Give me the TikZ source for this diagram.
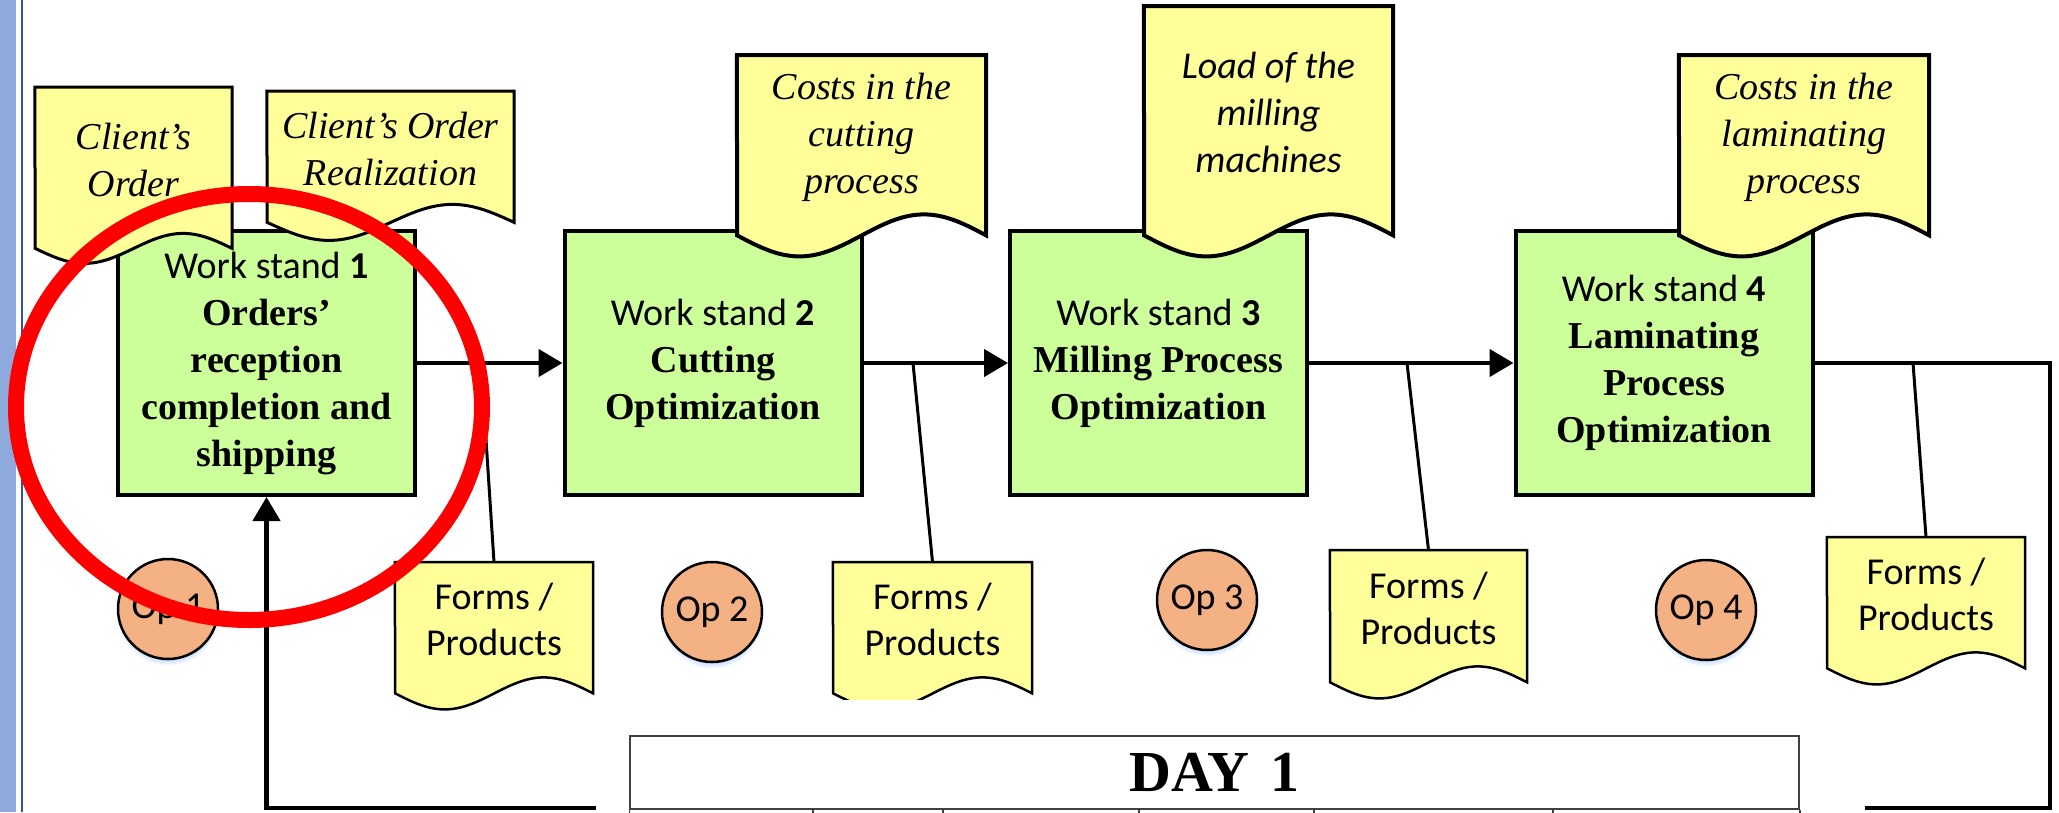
\documentclass[tikz,border=0pt]{standalone}
\usepackage{fontspec}
\setmainfont{Liberation Serif}
\newfontfamily\calibri{Carlito}
\usetikzlibrary{arrows.meta,shadows}

\definecolor{boxgreen}{HTML}{CCFF99}
\definecolor{docyellow}{HTML}{FFFF99}
\definecolor{opfill}{HTML}{F4B183}
\definecolor{stripblue}{HTML}{8EA9DB}
\definecolor{stripdark}{HTML}{2F5597}
\definecolor{tablegray}{HTML}{404040}
\definecolor{ringred}{HTML}{FF0000}

\pgfdeclarelayer{paper}
\pgfdeclarelayer{boxes}
\pgfdeclarelayer{docs}
\pgfsetlayers{paper,boxes,docs,main}

% outline of a "document" symbol hanging from the top of a text node:
% [#1] optional clip, #2 node, #3 width, #4 wave amplitude, #5 line width
\newcommand\docoutline[5][]{%
  \begin{pgfonlayer}{docs}
  \begin{scope}
    #1
    \filldraw[docpaint, line width=#5] (#2.north west) -- (#2.north east)
      -- ([yshift=-16pt]#2.south east)
      sin ++(-#3/4, #4) cos ++(-#3/4, -#4)
      sin ++(-#3/4, -#4) cos ++(-#3/4, #4) -- cycle;
  \end{scope}
  \end{pgfonlayer}}

\tikzset{
  wsbox/.style={draw, line width=4pt, fill=boxgreen, minimum width=297pt,
    minimum height=264pt, inner sep=0pt, align=center,
    font=\fontsize{38}{47}\selectfont},
  doctext/.style={anchor=north, inner sep=0pt, align=center},
  serifdoc/.style={font=\fontsize{38}{47}\selectfont\itshape},
  sansdoc/.style={font=\calibri\fontsize{38}{46}\selectfont},
  docpaint/.style={draw=black, fill=docyellow, line join=miter},
  opnode/.style={circle, draw, line width=2.5pt, fill=opfill,
    minimum size=100pt, inner sep=0pt, font=\calibri\fontsize{38}{46}\selectfont,
    circular drop shadow={fill=blue!60!cyan, opacity=0.25, shadow xshift=0pt,
      shadow yshift=-5pt, shadow scale=1.03}},
  flow/.style={line width=4.5pt, -{Triangle[length=24pt,width=27pt]}},
  tap/.style={line width=3pt},
  tablerule/.style={draw=tablegray, line width=1.5pt},
  ringpen/.style={draw=ringred, line width=16pt},
}

\begin{document}
\begin{tikzpicture}[x=1pt, y=-1pt]
\useasboundingbox (0,0) rectangle (2059,812);
\begin{pgfonlayer}{paper}
\fill[white] (0,0) rectangle (2059,812);
\end{pgfonlayer}

% page edge on the left
\fill[stripblue] (0,0) rectangle (16,812);
\draw[stripdark, line width=2pt] (21.5,0) -- (21.5,812);

% work stands
\begin{pgfonlayer}{boxes}
\node[wsbox] (ws1) at (266.5,363) {{\calibri Work stand \textbf{1}}\\\textbf{Orders’}\\\textbf{reception}\\\textbf{completion and}\\\textbf{shipping}};
\node[wsbox] (ws2) at (713,363) {{\calibri Work stand \textbf{2}}\\\textbf{Cutting}\\\textbf{Optimization}};
\node[wsbox] (ws3) at (1158.5,363) {{\calibri Work stand \textbf{3}}\\\textbf{Milling Process}\\\textbf{Optimization}};
\node[wsbox] (ws4) at (1664,363) {{\calibri Work stand \textbf{4}}\\\textbf{Laminating}\\\textbf{Process}\\\textbf{Optimization}};
\end{pgfonlayer}

% documents above the work stands
\node[doctext, serifdoc, minimum width=197pt, minimum height=145pt] (co) at (133.5,87) {Client’s\\Order};
\docoutline{co}{197pt}{15pt}{3pt}
\node[doctext, serifdoc, minimum width=247pt, minimum height=115pt] (cor) at (390.5,91) {Client’s Order\\Realization};
\docoutline{cor}{247pt}{18pt}{3pt}
\node[doctext, serifdoc, minimum width=249pt, minimum height=164pt] (cc) at (861.5,55) {Costs in the\\cutting\\process};
\docoutline{cc}{249pt}{21pt}{4pt}
\node[doctext, font=\calibri\itshape\fontsize{38}{47}\selectfont, minimum width=249pt, minimum height=213pt] (lm) at (1268.5,6) {Load of the\\milling\\machines};
\docoutline{lm}{249pt}{21pt}{4pt}
\node[doctext, serifdoc, minimum width=250pt, minimum height=164pt] (cl) at (1804,55) {Costs in the\\laminating\\process};
\docoutline{cl}{250pt}{21pt}{4pt}

% flow between the work stands
\draw[flow] (ws1.east) -- (ws2.west);
\draw[flow] (ws2.east) -- (ws3.west);
\draw[flow] (ws3.east) -- (ws4.west);
\coordinate (loopNE) at (2050,363);
\coordinate (loopSE) at (2050,808);
\coordinate (loopSW) at (266.5,808);
\draw[flow] (ws4.east) -- (loopNE) -- (loopSE) -- (loopSW) -- (ws1.south);

% forms / products
\node[doctext, sansdoc, minimum width=198pt, minimum height=115pt] (fp1) at (494,562) {Forms /\\Products};
\docoutline{fp1}{198pt}{16pt}{2.5pt}
\node[doctext, sansdoc, minimum width=199pt, minimum height=115pt] (fp2) at (932.5,562) {Forms /\\Products};
\docoutline[\clip (0,0) rectangle (2059,699);]{fp2}{199pt}{16pt}{2.5pt}
\node[doctext, sansdoc, minimum width=197pt, minimum height=116pt] (fp3) at (1428.5,550) {Forms /\\Products};
\docoutline{fp3}{197pt}{16pt}{2.5pt}
\node[doctext, sansdoc, minimum width=198pt, minimum height=115pt] (fp4) at (1926,537) {Forms /\\Products};
\docoutline{fp4}{198pt}{16pt}{2.5pt}

\coordinate (tap1) at (481,363);
\coordinate (tap2) at (913,363);
\coordinate (tap3) at (1407,363);
\coordinate (tap4) at (1913,363);
\draw[tap] (tap1) -- (fp1.north);
\draw[tap] (tap2) -- (fp2.north);
\draw[tap] (tap3) -- (fp3.north);
\draw[tap] (tap4) -- (fp4.north);

% operators
\node[opnode] (op1) at (168,609) {Op 1};
\node[opnode] (op2) at (712,612) {Op 2};
\node[opnode] (op3) at (1207,600) {Op 3};
\node[opnode] (op4) at (1706,610) {Op 4};

% day table
\fill[white] (596,800) rectangle (1865,815);
\node[tablerule, fill=white, minimum width=1169pt, minimum height=73pt,
  inner sep=0pt, font=\bfseries\fontsize{58}{60}\selectfont] (day) at (1214.5,772.5) {DAY\hspace{0.36em}1};
\draw[tablerule] (day.south west) -- ++(0,12);
\draw[tablerule] (day.south east) -- ++(0,12);
\foreach \cx in {813,943,1139,1314,1553}
  \draw[tablerule] (\cx,809) -- (\cx,821);

% highlight of work stand 1
\draw[ringpen] (249,407) ellipse [x radius=233pt, y radius=213pt];
\end{tikzpicture}
\end{document}
